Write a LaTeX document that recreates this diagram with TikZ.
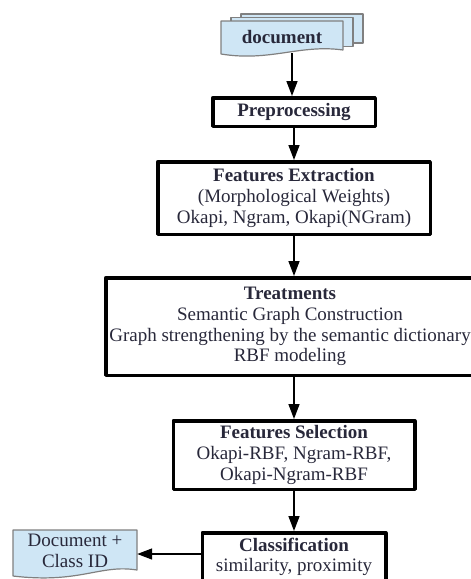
\documentclass[tikz,border=0pt]{standalone}
\usepackage{fontspec}
\setmainfont{Liberation Serif}
\usetikzlibrary{arrows.meta}
\definecolor{docblue}{RGB}{207,230,245}
\definecolor{docline}{RGB}{128,128,128}
\definecolor{txt}{RGB}{40,40,58}
\begin{document}
\begin{tikzpicture}[x=1pt,y=-1pt,>={Triangle[width=11pt,length=15pt]},line join=round,font=\fontsize{19}{20.7}\selectfont,text=txt]
	\tikzset{box/.style={draw,line width=3.5pt,align=center,inner sep=0pt},
		page/.style={draw=docline,fill=docblue,line width=1.2pt},
		flow/.style={->,line width=1.5pt}}
	\useasboundingbox (0,0) rectangle (471,579);
	% stacked pages behind the input document
	\foreach \d in {2,1}{
		\draw [page] (221+10*\d,21-3.5*\d) rectangle ++(122,29);
	}
	\draw [page] (221,21)--(343,21)--(343,50) .. controls (300,44) and (270,62) .. (221,54)--cycle;
	\node (doc) at (282,37) {\textbf{document}};
	\coordinate (docend) at (292,53);
	% processing steps
	\node [box,minimum width=162.5,minimum height=28.5] (prep) at (294,112) {\textbf{Preprocessing}};
	\node [box,minimum width=272.5,minimum height=72.5] (featext) at (294,198)
		{\textbf{Features Extraction}\\(Morphological Weights)\\Okapi, Ngram, Okapi(NGram)};
	\node [box,minimum width=368.5,minimum height=97.5] (treat) at (290,326.5)
		{\textbf{Treatments}\\Semantic Graph Construction\\Graph strengthening by the semantic dictionary\\RBF modeling};
	\node [box,minimum width=241.5,minimum height=68.5] (featsel) at (294,455)
		{\textbf{Features Selection}\\Okapi-RBF, Ngram-RBF,\\Okapi-Ngram-RBF};
	\node [box,minimum width=183.5,minimum height=48.5] (classif) at (294,557)
		{\textbf{Classification}\\similarity, proximity};
	% output document
	\draw [page] (13,530)--(137,530)--(137,570) .. controls (100,564) and (80,584) .. (13,576)--cycle;
	\node [align=center,inner sep=0pt,minimum width=124] (docid) at (75,551) {Document +\\Class ID};
	% arrows
	\draw [flow] (docend)--(docend|-prep.north);
	\foreach \a/\b in {prep/featext,featext/treat,treat/featsel,featsel/classif}{
		\draw [flow] (\a.south-|prep)--(\b.north-|prep);
	}
	\draw [flow] ([yshift=3pt]classif.west)--([yshift=3pt]classif.west-|docid.east);
\end{tikzpicture}
\end{document}
